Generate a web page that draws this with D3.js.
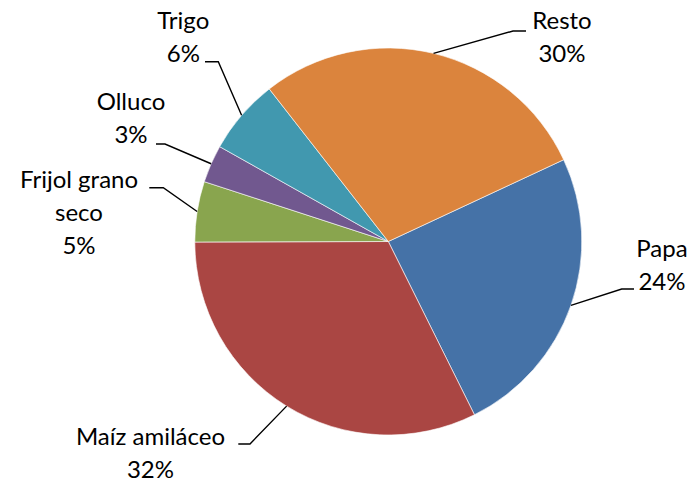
<!DOCTYPE html>
<html><head><meta charset="utf-8">
<script src="https://cdn.jsdelivr.net/npm/d3@7"></script>
<style>body{margin:0;background:#fff}svg{display:block}</style>
</head><body>
<script>
const categories = ["Papa", "Maíz amiláceo", "Frijol grano seco", "Olluco", "Trigo", "Resto"];
const values = [24.6, 32.3, 5.05, 3.15, 6.3, 28.6];
const pctLabels = ["24%", "32%", "5%", "3%", "6%", "30%"];
const colors = ["#4572A7", "#AA4643", "#89A54E", "#71588F", "#4198AF", "#DB843D"];

// label layout (positions only)
const labelLayout = [
  {lines:["Papa","24%"], x:662, y:257.3, elbow:[621.7,289], end:[634,289]},
  {lines:["Maíz amiláceo","32%"], x:150.5, y:445, elbow:[250,444], end:[238.3,444]},
  {lines:["Frijol grano","seco","5%"], x:79, y:188.3, elbow:[163.3,187.7], end:[149.3,187.7]},
  {lines:["Olluco","3%"], x:131, y:110, elbow:[165,144], end:[156,144]},
  {lines:["Trigo","6%"], x:183.3, y:29.3, elbow:[218.3,61.7], end:[205,61.7]},
  {lines:["Resto","30%"], x:562, y:29.3, elbow:[513,31], end:[526,31]}
];
const lineH = 33;

const W = 690, H = 482, cx = 388.3, cy = 241.5, R = 193.5;
const svg = d3.select("body").append("svg").attr("width", W).attr("height", H);
const g = svg.append("g").attr("transform", `translate(${cx},${cy})`);

const start = 65.0 * Math.PI / 180;
const pie = d3.pie().sort(null).startAngle(start).endAngle(start + 2 * Math.PI);
const arcs = pie(values);
const arc = d3.arc().innerRadius(0).outerRadius(R);

g.selectAll("path.slice").data(arcs).join("path")
  .attr("class", "slice")
  .attr("d", arc)
  .attr("fill", (d, i) => colors[i])
  .attr("stroke", "#ffffff").attr("stroke-width", 0.6);

// leader lines
const lineGen = d3.line();
svg.selectAll("path.leader").data(arcs).join("path")
  .attr("class", "leader")
  .attr("d", (d, i) => {
    const a = (d.startAngle + d.endAngle) / 2;
    const p0 = [cx + R * Math.sin(a), cy - R * Math.cos(a)];
    const L = labelLayout[i];
    return lineGen([p0, L.elbow, L.end]);
  })
  .attr("fill", "none").attr("stroke", "#000").attr("stroke-width", 1.4);

// labels
const lbl = svg.selectAll("text.lbl").data(arcs).join("text")
  .attr("class", "lbl")
  .attr("text-anchor", "middle")
  .attr("font-family", "Lato, 'Open Sans', sans-serif")
  .attr("font-size", 24)
  .attr("fill", "#000");
lbl.each(function(d, i) {
  const L = labelLayout[i];
  const lines = L.lines.slice(0, -1).concat([pctLabels[i]]);
  d3.select(this).selectAll("tspan").data(lines).join("tspan")
    .attr("x", L.x).attr("y", (t, j) => L.y + j * lineH).text(t => t);
});
</script>
</body></html>
